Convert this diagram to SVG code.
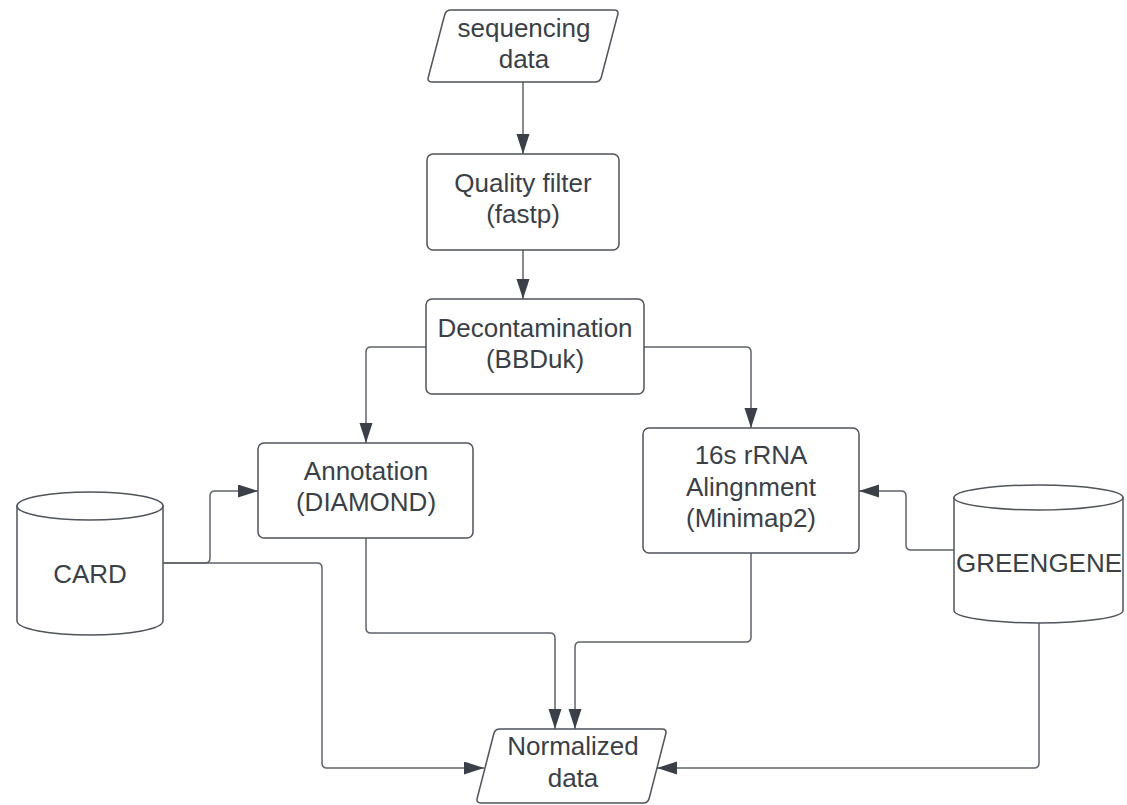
<svg xmlns="http://www.w3.org/2000/svg" width="1127" height="805" viewBox="0 0 1127 805">
<style>
.shape{fill:#ffffff;stroke:#4f535b;stroke-width:1.5}
.lbl{font-family:"Liberation Sans",Arial,sans-serif;font-size:26px;fill:#3a3f48;text-anchor:middle}
.conn{fill:none;stroke:#5f636b;stroke-width:1.5}
</style>
<defs>
<marker id="ah" markerUnits="userSpaceOnUse" markerWidth="20" markerHeight="14" refX="20" refY="6.5" orient="auto">
<path d="M0,0 L20,6.5 L0,13 Z" fill="#3a3f48"/>
</marker>
</defs>
<rect width="1127" height="805" fill="#ffffff"/>
<g id="connectors">
<path class="conn" d="M523,82 L523,154" marker-end="url(#ah)"/>
<path class="conn" d="M523,250 L523,299" marker-end="url(#ah)"/>
<path class="conn" d="M426,347 L371,347 Q366,347 366,352 L366,443" marker-end="url(#ah)"/>
<path class="conn" d="M644,347 L746,347 Q751,347 751,352 L751,428" marker-end="url(#ah)"/>
<path class="conn" d="M163,563 L205,563 Q210,563 210,558 L210,496 Q210,491 215,491 L258,491" marker-end="url(#ah)"/>
<path class="conn" d="M163,563 L317,563 Q322,563 322,568 L322,763 Q322,768 327,768 L484,768" marker-end="url(#ah)"/>
<path class="conn" d="M366,538 L366,628 Q366,633 371,633 L550,633 Q555,633 555,638 L555,729" marker-end="url(#ah)"/>
<path class="conn" d="M751,553 L751,637 Q751,642 746,642 L580,642 Q575,642 575,647 L575,729" marker-end="url(#ah)"/>
<path class="conn" d="M954,550 L911,550 Q906,550 906,545 L906,496 Q906,491 901,491 L859,491" marker-end="url(#ah)"/>
<path class="conn" d="M1039,623 L1039,763 Q1039,768 1034,768 L657,768" marker-end="url(#ah)"/>
</g>
<g id="seq">
<path class="shape" d="M451,10 L614,10 Q619,10 617.7,14.8 L601.3,77.2 Q600,82 595,82 L432,82 Q427,82 428.3,77.2 L444.7,14.8 Q446,10 451,10 Z"/>
<text class="lbl" x="524" y="37">sequencing</text>
<text class="lbl" x="524" y="68">data</text>
</g>
<g id="quality">
<rect class="shape" x="427" y="154" width="192" height="96" rx="6"/>
<text class="lbl" x="523" y="192">Quality filter</text>
<text class="lbl" x="523" y="223">(fastp)</text>
</g>
<g id="decon">
<rect class="shape" x="426" y="299" width="218" height="95" rx="6"/>
<text class="lbl" x="535" y="337">Decontamination</text>
<text class="lbl" x="535" y="368">(BBDuk)</text>
</g>
<g id="annotation">
<rect class="shape" x="258" y="443" width="215" height="95" rx="6"/>
<text class="lbl" x="366" y="480">Annotation</text>
<text class="lbl" x="366" y="511">(DIAMOND)</text>
</g>
<g id="rrna">
<rect class="shape" x="643" y="428" width="216" height="125" rx="6"/>
<text class="lbl" x="751" y="464">16s rRNA</text>
<text class="lbl" x="751" y="496">Alingnment</text>
<text class="lbl" x="751" y="527">(Minimap2)</text>
</g>
<g id="card">
<path class="shape" d="M17,506 L17,621 A73,14 0 0 0 163,621 L163,506 Z"/>
<ellipse class="shape" cx="90" cy="506" rx="73" ry="14"/>
<text class="lbl" x="90" y="583">CARD</text>
</g>
<g id="greengene">
<path class="shape" d="M954,497.5 L954,610.5 A84.5,12.5 0 0 0 1123,610.5 L1123,497.5 Z"/>
<ellipse class="shape" cx="1038.5" cy="497.5" rx="84.5" ry="12.5"/>
<text class="lbl" x="1039" y="572">GREENGENE</text>
</g>
<g id="normalized">
<path class="shape" d="M500,729 L662,729 Q667,729 665.8,733.8 L649.2,798.2 Q648,803 643,803 L481,803 Q476,803 477.2,798.2 L493.8,733.8 Q495,729 500,729 Z"/>
<text class="lbl" x="573" y="755">Normalized</text>
<text class="lbl" x="573" y="787">data</text>
</g>
</svg>
